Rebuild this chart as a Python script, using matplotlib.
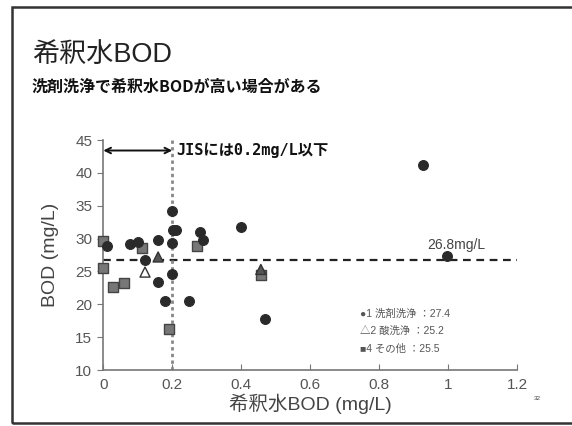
import matplotlib
matplotlib.use("Agg")
import matplotlib.pyplot as plt
from matplotlib.patches import Rectangle

plt.rcParams['font.family'] = ['Liberation Sans', 'Noto Sans CJK JP', 'DejaVu Sans']

# 1 洗剤洗浄 (detergent washing)
det_x = [0.012, 0.077, 0.100, 0.121, 0.158, 0.158, 0.179, 0.200, 0.203, 0.212,
         0.200, 0.200, 0.249, 0.280, 0.290, 0.398, 0.469, 0.928, 0.998]
det_y = [28.9, 29.1, 29.5, 26.7, 29.8, 23.4, 20.5, 34.2, 31.3, 31.3,
         29.3, 24.6, 20.5, 31.0, 29.8, 31.8, 17.7, 41.2, 27.3]

# 2 酸洗浄 (acid washing)
acid_x = [0.121, 0.159, 0.457]
acid_y = [24.9, 27.2, 25.3]
acid_open = [True, False, False]

# 4 その他 (other)
oth_x = [0.000, 0.000, 0.029, 0.061, 0.111, 0.190, 0.271, 0.457]
oth_y = [29.6, 25.5, 22.6, 23.3, 28.5, 16.3, 28.8, 24.5]

mean_all = 26.8
jis_limit = 0.2
legend_lines = ["●1 洗剤洗浄 ：27.4", "△2 酸洗浄 ：25.2", "■4 その他 ：25.5"]

xticks = [0, 0.2, 0.4, 0.6, 0.8, 1.0, 1.2]
xticklabels = ["0", "0.2", "0.4", "0.6", "0.8", "1", "1.2"]
yticks = [10, 15, 20, 25, 30, 35, 40, 45]

W, H = 572, 426
fig = plt.figure(figsize=(W / 100, H / 100), dpi=100)
fig.patch.set_facecolor('white')

# slide frame
fig.patches.append(Rectangle((12 / W, 3 / H), 1.2, 1 - 10 / H, transform=fig.transFigure,
                             fill=False, edgecolor='#333333', linewidth=1.8))

fig.text(32 / W, 1 - 55 / H, "希釈水BOD", fontsize=19.5, color='#222222', va='center', ha='left')
fig.text(32 / W, 1 - 87 / H, "洗剤洗浄で希釈水BODが高い場合がある", fontsize=11.5,
         fontweight='bold', color='#111111', va='center', ha='left',
         family=['Noto Sans CJK JP'])

ax = fig.add_axes([103.3 / W, 1 - 370 / H, (517 - 103.3) / W, 230 / H])
ax.set_xlim(0, 1.2)
ax.set_ylim(10, 45)

for s in ['top', 'right']:
    ax.spines[s].set_visible(False)
for s in ['left', 'bottom']:
    ax.spines[s].set_color('#777777')
    ax.spines[s].set_linewidth(1.2)

ax.set_xticks(xticks)
ax.set_xticklabels(xticklabels)
ax.set_yticks(yticks)
ax.tick_params(axis='x', direction='in', length=4, color='#777777', labelsize=11,
               labelcolor='#555555', pad=6)
ax.tick_params(axis='y', direction='out', length=4, color='#777777', labelsize=11,
               labelcolor='#555555', pad=4)

ax.set_xlabel("希釈水BOD (mg/L)", fontsize=14, color='#444444', labelpad=1)
ax.set_ylabel("BOD (mg/L)", fontsize=14, color='#444444', labelpad=12)

# reference lines
ax.axhline(mean_all, color='#222222', linestyle=(0, (3.5, 2.5)), linewidth=1.6, zorder=2)
ax.axvline(jis_limit, color='#888888', linestyle=(0, (1.2, 1.2)), linewidth=2.0, zorder=2)

ax.annotate("", xy=(0.0, 43.4), xytext=(jis_limit, 43.4),
            arrowprops=dict(arrowstyle='<->', color='#111111', lw=1.4,
                            shrinkA=0, shrinkB=0))
ax.text(0.212, 43.4, "JISには0.2mg/L以下", fontsize=11, fontweight='bold',
        color='#111111', va='center', ha='left',
        family=['DejaVu Sans Mono', 'Noto Sans CJK JP'])
ax.text(0.94, 27.9, "26.8mg/L", fontsize=10, color='#444444', va='bottom', ha='left')

# series
ax.scatter(oth_x, oth_y, marker='s', s=62, facecolor='#777777', edgecolor='#444444',
           linewidth=1.0, zorder=3, clip_on=False)
ax.scatter(det_x, det_y, marker='o', s=50, facecolor='#2a2a2a', edgecolor='#2a2a2a',
           linewidth=0.8, zorder=4, clip_on=False)
ax.scatter(acid_x, acid_y, marker='^', s=52,
           facecolor=['white' if o else '#555555' for o in acid_open],
           edgecolor='#333333', linewidth=1.0, zorder=5, clip_on=False)

# group averages
for i, line in enumerate(legend_lines):
    ax.text(0.745, 18.6 - 2.7 * i, line, fontsize=7.5, color='#555555',
            va='center', ha='left')

fig.text(537 / W, 1 - 398 / H, "32", fontsize=4.5, color='#444444', ha='center', va='center')

fig.savefig("out.png", dpi=100)
